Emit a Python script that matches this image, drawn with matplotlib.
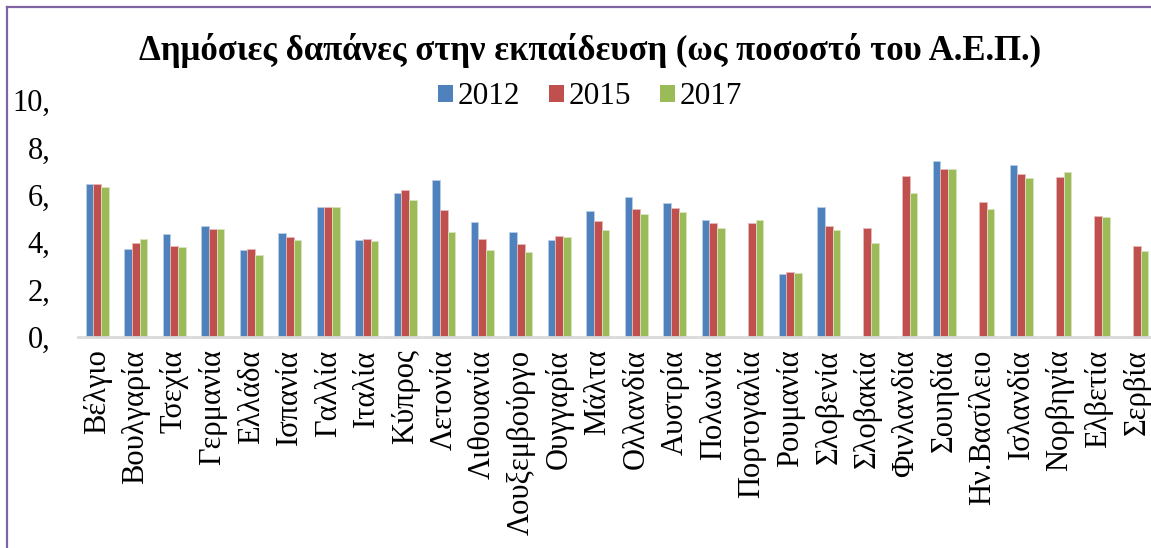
import numpy as np
import matplotlib
matplotlib.use("Agg")
import matplotlib.pyplot as plt
from matplotlib.patches import Patch
from matplotlib.lines import Line2D

countries = [
    "Βέλγιο", "Βουλγαρία", "Τσεχία", "Γερμανία", "Ελλάδα", "Ισπανία", "Γαλλία",
    "Ιταλία", "Κύπρος", "Λετονία", "Λιθουανία", "Λουξεμβούργο", "Ουγγαρία",
    "Μάλτα", "Ολλανδία", "Αυστρία", "Πολωνία", "Πορτογαλία", "Ρουμανία",
    "Σλοβενία", "Σλοβακία", "Φινλανδία", "Σουηδία", "Ην.Βασίλειο", "Ισλανδία",
    "Νορβηγία", "Ελβετία", "Σερβία",
]
nan = np.nan
v2012 = [6.47, 3.70, 4.35, 4.67, 3.66, 4.37, 5.50, 4.11, 6.09, 6.64, 4.87, 4.42,
         4.08, 5.33, 5.92, 5.67, 4.94, nan, 2.67, 5.47, nan, nan, 7.42, nan,
         7.27, nan, nan, nan]
v2015 = [6.47, 3.96, 3.82, 4.55, 3.70, 4.20, 5.50, 4.13, 6.19, 5.36, 4.15, 3.92,
         4.28, 4.91, 5.42, 5.46, 4.83, 4.81, 2.74, 4.67, 4.62, 6.79, 7.07, 5.71,
         6.86, 6.75, 5.09, 3.86]
v2017 = [6.32, 4.13, 3.79, 4.55, 3.44, 4.08, 5.47, 4.07, 5.80, 4.43, 3.69, 3.59,
         4.21, 4.51, 5.21, 5.29, 4.59, 4.93, 2.69, 4.51, 3.96, 6.09, 7.10, 5.39,
         6.71, 6.98, 5.08, 3.61]
years = ["2012", "2015", "2017"]
yticks = [0, 2, 4, 6, 8, 10]
ytick_labels = ["0,", "2,", "4,", "6,", "8,", "10,"]

colors = ["#4F81BD", "#C0504D", "#9BBB59"]
edges = ["#B9CDE5", "#E6B9B8", "#D7E4BD"]
plt.rcParams["font.family"] = ["Liberation Serif", "DejaVu Serif"]

W, H = 1151, 548
fig = plt.figure(figsize=(W / 100, H / 100), dpi=100)
ax = fig.add_axes([78 / W, 1 - 337 / H, (1156 - 78) / W, (337 - 100) / H])

x = np.arange(len(countries))
width = 0.2
for i, (vals, c, e) in enumerate(zip([v2012, v2015, v2017], colors, edges)):
    ax.bar(x + (i - 1) * width, vals, width, color=c, edgecolor=e,
           linewidth=0.6, label=years[i], zorder=2)

ax.set_xlim(-0.5, len(countries) - 0.5)
ax.set_ylim(0, 10)
ax.set_yticks(yticks)
ax.set_yticklabels(ytick_labels, fontsize=22)
ax.set_xticks(x)
ax.set_xticklabels(countries, rotation=90, fontsize=22, va="top", ha="center")
ax.tick_params(axis="y", length=0, pad=20)
ax.tick_params(axis="x", length=0, pad=9)
for s in ["top", "right", "left"]:
    ax.spines[s].set_visible(False)
ax.spines["bottom"].set_color("#D9D9D9")
ax.spines["bottom"].set_linewidth(2)

fig.text(590 / W, 1 - 51 / H,
         "Δημόσιες δαπάνες στην εκπαίδευση (ως ποσοστό του Α.Ε.Π.)",
         ha="center", va="center", fontsize=25, fontweight="bold")

handles = [Patch(facecolor=c, edgecolor="none") for c in colors]
fig.legend(handles, years, loc="center", bbox_to_anchor=(590 / W, 1 - 97 / H),
           ncol=3, frameon=False, fontsize=22.5, handlelength=0.5,
           handleheight=0.5, handletextpad=0.15, columnspacing=0.9,
           borderaxespad=0)

# purple chart frame (left and top edges)
frame = "#8064A2"
fig.add_artist(Line2D([7 / W, 7 / W], [0, 1 - 7 / H], color=frame, lw=1.6,
                      transform=fig.transFigure))
fig.add_artist(Line2D([7 / W, 1], [1 - 7 / H, 1 - 7 / H], color=frame, lw=1.6,
                      transform=fig.transFigure))

fig.savefig("out.png", dpi=100, facecolor="white")
